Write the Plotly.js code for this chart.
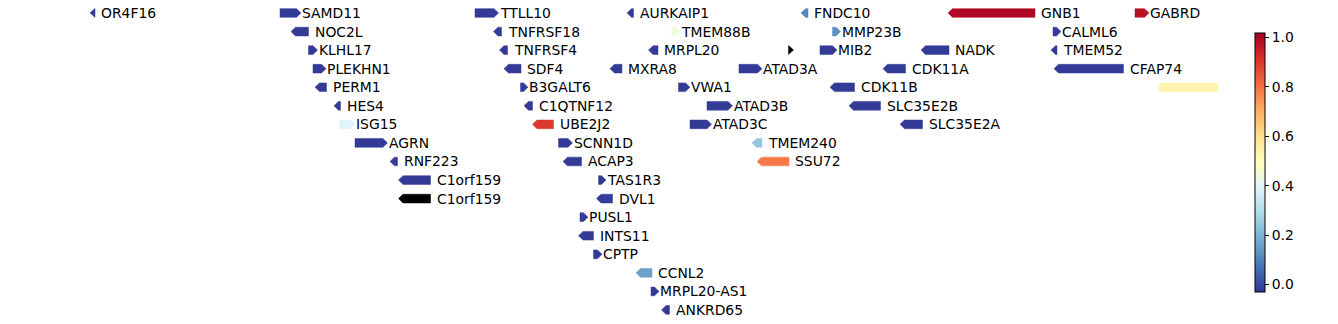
<!DOCTYPE html>
<html>
<head>
<meta charset="utf-8">
<script src="https://cdn.plot.ly/plotly-3.0.1.min.js"></script>
<style>html,body{margin:0;padding:0;background:#fff;}#chart{width:1338px;height:324px;}</style>
</head>
<body>
<div id="chart"></div>
<script>
// ---- data (x in track units, row = stacking level, value = colour value; null = no value) ----
const geneNames = ["OR4F16","SAMD11","TTLL10","AURKAIP1","FNDC10","GNB1","GABRD",
  "NOC2L","TNFRSF18","TMEM88B","MMP23B","CALML6",
  "KLHL17","TNFRSF4","MRPL20","","MIB2","NADK","TMEM52",
  "PLEKHN1","SDF4","MXRA8","ATAD3A","CDK11A","CFAP74",
  "PERM1","B3GALT6","VWA1","CDK11B","",
  "HES4","C1QTNF12","ATAD3B","SLC35E2B",
  "ISG15","UBE2J2","ATAD3C","SLC35E2A",
  "AGRN","SCNN1D","TMEM240",
  "RNF223","ACAP3","SSU72",
  "C1orf159","TAS1R3",
  "C1orf159","DVL1",
  "PUSL1","INTS11","CPTP","CCNL2","MRPL20-AS1","ANKRD65"];
const geneStarts = [90,280,475,627,801,948,1135,
  291,493.5,672,832.5,1053,
  308.5,499.5,648.5,788.5,820,921,1051,
  313,504,610,739,883,1054,
  315,520.5,678.5,830,1159,
  334,524,707,849,
  339.5,532.5,690,900,
  355,558.5,752,
  390,563,757,
  398.5,598.5,
  398.5,596.5,
  580,578.5,593.5,636,651,661.5];
const geneEnds = [95,301,498.5,633.5,808,1035,1149,
  308.5,501.5,680,840.5,1061,
  317.5,507.5,658,793.5,837,949,1057,
  326,521,622,762,905.5,1123.5,
  326.5,528,690,854.5,1245,
  340.5,532.5,732.5,880.5,
  355,553.5,711.5,922.5,
  387.5,572.5,762,
  397.5,581.5,789,
  430.5,606,
  430.5,612.5,
  588,593.5,602,652,659,669.5];
const geneStrands = [-1,1,1,-1,-1,-1,1,
  -1,-1,1,1,1,
  1,-1,-1,1,1,-1,-1,
  1,-1,-1,1,-1,-1,
  -1,1,1,-1,0,
  -1,-1,1,-1,
  1,-1,1,-1,
  1,1,-1,
  -1,-1,-1,
  -1,1,
  -1,-1,
  1,-1,1,-1,1,-1];
const geneRows = [0,0,0,0,0,0,0,
  1,1,1,1,1,
  2,2,2,2,2,2,2,
  3,3,3,3,3,3,
  4,4,4,4,4,
  5,5,5,5,
  6,6,6,6,
  7,7,7,
  8,8,8,
  9,9,
  10,10,
  11,12,13,14,15,16];
const geneValues = [-0.02,-0.02,-0.02,-0.02,0.11,1.0,0.98,
  -0.02,-0.02,0.45,0.13,-0.02,
  -0.02,-0.02,-0.02,null,-0.02,-0.02,-0.02,
  -0.02,-0.02,-0.02,-0.02,-0.02,-0.02,
  -0.02,-0.02,-0.02,-0.02,0.53,
  -0.02,-0.02,-0.02,-0.02,
  0.39,0.9,-0.02,-0.02,
  -0.02,-0.02,0.24,
  -0.02,-0.02,0.79,
  -0.02,-0.02,
  null,-0.02,
  -0.02,-0.02,-0.02,0.16,-0.02,-0.02];
const cbTicks = [0,0.2,0.4,0.6,0.8,1.0];
const cMin = -0.028, cMax = 1.02;

// ---- colour scale (RdYlBu reversed) ----
const scaleCols = ['#313695','#4575b4','#74add1','#abd9e9','#e0f3f8','#ffffbf','#fee090','#fdae61','#f46d43','#d73027','#a50026'];
const colorscale = scaleCols.map((c,i)=>[i/(scaleCols.length-1), c]);
function hex2rgb(h){return [parseInt(h.slice(1,3),16),parseInt(h.slice(3,5),16),parseInt(h.slice(5,7),16)];}
function valColor(v){
  if(v===null) return '#000000';
  let t=(v-cMin)/(cMax-cMin); t=Math.max(0,Math.min(1,t));
  const n=scaleCols.length-1, p=t*n, i=Math.min(Math.floor(p),n-1), f=p-i;
  const a=hex2rgb(scaleCols[i]), b=hex2rgb(scaleCols[i+1]);
  const c=a.map((x,k)=>Math.round(x+(b[k]-x)*f));
  return 'rgb('+c.join(',')+')';
}

const TIP = 4.5;     // arrow head length (track units)
const HALF = 0.235;  // half height of a feature (rows)

const traces = [];
const annotations = [];
for(let i=0;i<geneNames.length;i++){
  const s=geneStarts[i], e=geneEnds[i], y=geneRows[i], st=geneStrands[i];
  const tip=Math.min(TIP, e-s);
  let xs, ys;
  if(st>0){
    xs=[s,e-tip,e,e-tip,s,s]; ys=[y-HALF,y-HALF,y,y+HALF,y+HALF,y-HALF];
  } else if(st<0){
    xs=[e,s+tip,s,s+tip,e,e]; ys=[y-HALF,y-HALF,y,y+HALF,y+HALF,y-HALF];
  } else {
    xs=[s,e,e,s,s]; ys=[y-HALF,y-HALF,y+HALF,y+HALF,y-HALF];
  }
  const col=valColor(geneValues[i]);
  traces.push({type:'scatter',mode:'lines',x:xs,y:ys,fill:'toself',fillcolor:col,
    line:{color:col,width:0.5},hoverinfo:'skip',showlegend:false});
  if(geneNames[i]){
    annotations.push({x:e,y:y,xref:'x',yref:'y',text:geneNames[i],showarrow:false,
      xanchor:'left',yanchor:'middle',xshift: st>0 ? -1 : 4,
      font:{family:'DejaVu Sans',size:13.9,color:'#000'}});
  }
}
// colour bar
traces.push({type:'scatter',mode:'markers',x:[null,null],y:[null,null],showlegend:false,hoverinfo:'skip',
  marker:{color:[cMin,cMax],cmin:cMin,cmax:cMax,colorscale:colorscale,showscale:true,size:0.1,
    colorbar:{thickness:10,thicknessmode:'pixels',len:259,lenmode:'pixels',
      x:1255/1218,xanchor:'left',xpad:0,y:0.5,yanchor:'middle',ypad:0,
      outlinewidth:1,outlinecolor:'#000',
      tickvals:cbTicks,ticktext:cbTicks.map(v=>v.toFixed(1)),ticks:'outside',ticklen:4,tickcolor:'#000',
      tickfont:{family:'DejaVu Sans',size:13.9,color:'#000'}}}});

const layout = {
  width:1338,height:324,margin:{l:0,r:120,t:0,b:0},
  paper_bgcolor:'#fff',plot_bgcolor:'#fff',showlegend:false,hovermode:false,
  xaxis:{range:[0,1218],visible:false,fixedrange:true},
  yaxis:{range:[16.755,-0.70],visible:false,fixedrange:true},
  annotations:annotations
};
Plotly.newPlot('chart',traces,layout,{displayModeBar:false,staticPlot:true});
</script>
</body>
</html>
